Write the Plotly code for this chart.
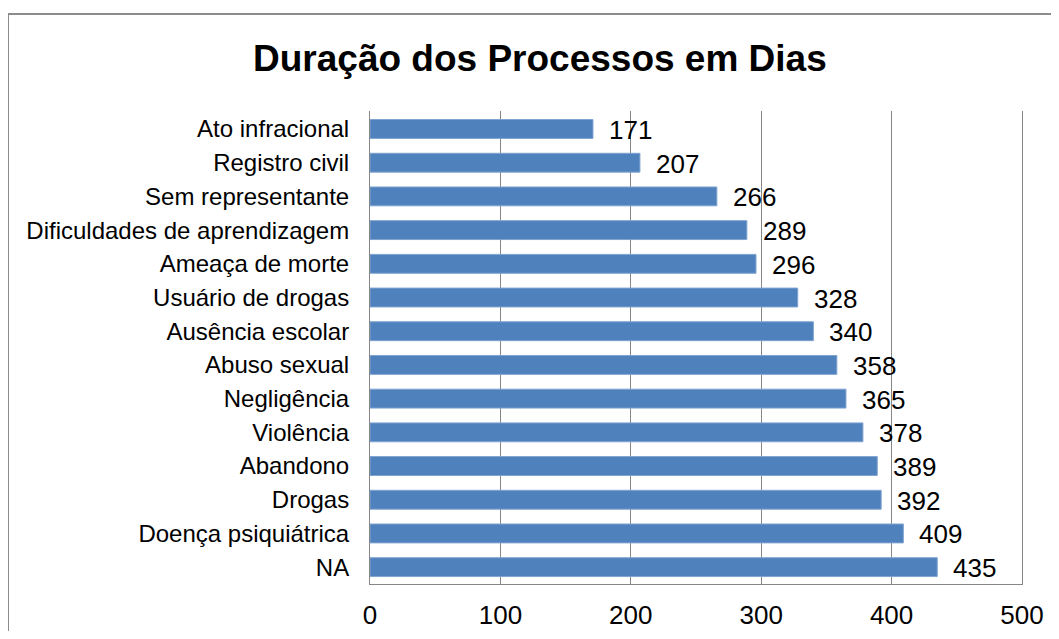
import plotly.graph_objects as go

categorias = [
    "Ato infracional", "Registro civil", "Sem representante",
    "Dificuldades de aprendizagem", "Ameaça de morte", "Usuário de drogas",
    "Ausência escolar", "Abuso sexual", "Negligência", "Violência",
    "Abandono", "Drogas", "Doença psiquiátrica", "NA",
]
dias = [171, 207, 266, 289, 296, 328, 340, 358, 365, 378, 389, 392, 409, 435]
x_ticks = [0, 100, 200, 300, 400, 500]

fonte = "Liberation Sans, Arial, sans-serif"
cinza = "#868686"

# a página tem margem de 8px no body: a figura fica 16px menor
W, H = 1043, 623
L, R, T, B = 362, 29, 103, 47
pw, ph = W - L - R, H - T - B

fig = go.Figure(go.Bar(
    x=dias,
    y=categorias,
    orientation="h",
    marker=dict(color="#4F81BD", line=dict(color="#7FA3D0", width=1)),
    width=0.56,
))

# valores ao lado das barras
for cat, v in zip(categorias, dias):
    fig.add_annotation(
        x=v, y=cat, text=str(v), showarrow=False,
        xanchor="left", xshift=14, yshift=-1,
        font=dict(family=fonte, size=26, color="black"),
    )

fig.update_layout(
    width=W, height=H,
    margin=dict(l=L, r=R, t=T, b=B),
    paper_bgcolor="white", plot_bgcolor="white",
    showlegend=False,
    font=dict(family=fonte, color="black"),
    annotations=list(fig.layout.annotations) + [dict(
        text="<b>Duração dos Processos em Dias</b>",
        xref="paper", yref="paper", x=(532 - L) / pw, y=(H - B - 50) / ph,
        xanchor="center", yanchor="middle", showarrow=False,
        font=dict(family=fonte, size=37, color="black"),
    )],
    shapes=[dict(
        type="rect", xref="paper", yref="paper",
        x0=(0 - L) / pw, x1=(W + 20 - L) / pw,
        y0=-(B + 20) / ph, y1=(H - B - 6) / ph,
        line=dict(color="#8c8c8c", width=2), fillcolor="rgba(0,0,0,0)",
        layer="below",
    )],
)

fig.update_xaxes(
    range=[0, 500], tickvals=x_ticks, showgrid=True, gridcolor=cinza, gridwidth=1,
    showline=True, linecolor=cinza, linewidth=1, zeroline=False,
    ticks="", ticklabelstandoff=8, automargin=False,
    tickfont=dict(family=fonte, size=26, color="black"),
)
fig.update_yaxes(
    categoryorder="array", categoryarray=categorias, autorange="reversed",
    showline=True, mirror=True, linecolor=cinza, linewidth=1, showgrid=False,
    ticks="", ticklabelstandoff=15, automargin=False,
    tickfont=dict(family=fonte, size=24, color="black"),
)

fig.write_html("out.html")
